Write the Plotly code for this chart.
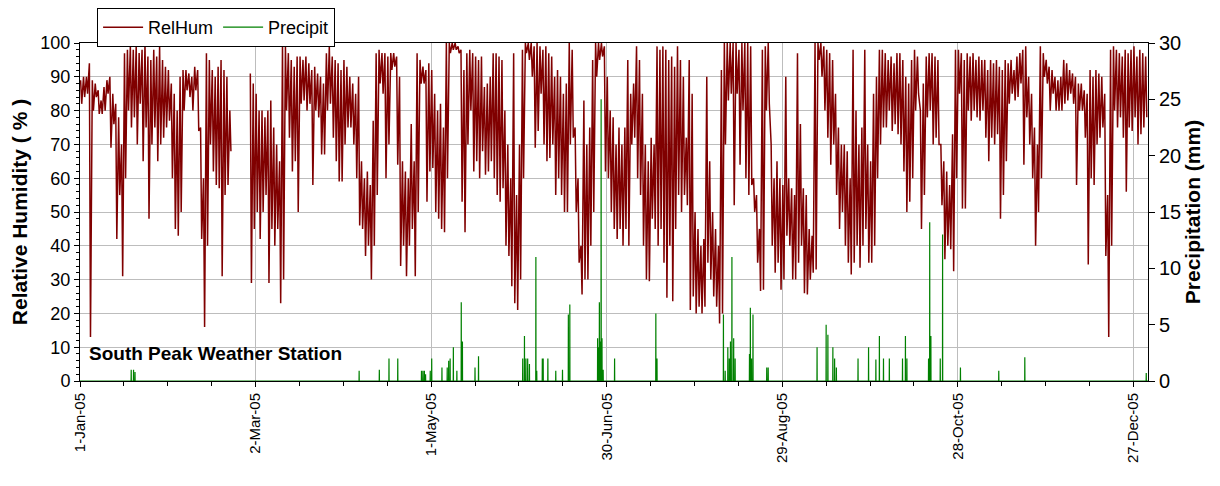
import datetime as dt
import plotly.graph_objects as go

# Daily relative humidity extremes (%) for 2005, day index 0 = 1-Jan-05 (None = missing data)
rh_high = [
    89, 90, 90, 94, 89, 88, 86, 83, 87, 89, 90, 85, 82, 78, 70, 97, 98, 99, 98, 99,
    97, 98, 100, 96, 95, 98, 96, 99, 95, 93, 92, 88, 85, 80, 90, 92, 92, 91, 90, 93,
    92, 75, 60, 97, 95, 92, 90, 93, 95, 92, 90, 80, None, None, None, None, None, None, 91, 88,
    85, 80, 80, 78, 80, 83, 75, 70, 65, 100, 99, 97, 95, 93, 96, 96, 95, 96, 94, 92,
    93, 91, 90, 88, 97, 99, 96, 95, 94, 92, 95, 93, 90, 88, 85, 90, 65, 60, 62, 58,
    77, 97, 98, 97, 97, 96, 97, 97, 96, 90, 65, 62, 60, 76, 65, 97, 95, 93, 92, 94,
    92, 85, 80, 82, 75, 100, 100, 100, 100, 99, 98, 92, 97, 98, 97, 96, 95, 96, 87, 88,
    90, 97, 97, 96, 95, 80, 70, 60, 97, 55, 70, 98, 100, 100, 100, 99, 100, 99, 98, 99,
    97, 96, 90, 92, 90, 85, 88, 100, 98, 75, 60, 40, 83, 70, 75, 95, 100, 100, 100, 99,
    90, 80, 78, 70, 75, 70, 75, 95, 85, 88, 99, 95, 85, 70, 65, 72, 70, 99, 98, 99,
    98, 95, 96, 93, 99, 95, 90, 72, 95, 85, 50, 45, 40, 42, 90, 65, 50, 45, 40, 92,
    100, 100, 100, 100, 100, 98, 100, 100, 100, 99, 60, 55, 45, 98, 99, 100, 70, 60, 65, 60,
    58, 90, 60, 57, 55, 97, 76, 57, 55, 45, 43, 100, 100, 100, 99, 98, 97, 95, 85, 75,
    70, 70, 68, 60, 98, 80, 70, 75, 98, 70, 65, 85, 90, 98, 98, 97, 95, 96, 94, 97,
    97, 95, 90, 88, 95, 98, 96, 80, 88, 96, 97, 97, 96, 95, 70, 65, 62, 58, 73, 98,
    98, 97, 95, 97, 96, 97, 95, 96, 95, 95, 92, 95, 94, 95, 93, 92, 95, 94, 95, 92,
    96, 97, 98, 99, 90, 85, 75, 70, 99, 97, 95, 93, 92, 90, 89, 90, 95, 94, 92, 91,
    90, 88, 88, 86, 85, 92, 90, 92, 91, 90, 85, 55, 98, 99, 98, 97, 96, 98, 97, 98,
    99, 96, 98, 97, 96,
]
rh_low = [
    82, 84, 85, 13, 80, 84, 79, 79, 80, 85, 69, 76, 42, 55, 31, 60, 80, 75, 78, 70,
    82, 65, 75, 48, 70, 75, 65, 70, 72, 75, 77, 60, 45, 43, 50, 80, 86, 84, 80, 86,
    74, 42, 16, 40, 70, 62, 58, 57, 31, 55, 58, 68, None, None, None, None, None, None, 29, 45,
    50, 42, 50, 55, 29, 45, 40, 45, 23, 30, 80, 72, 62, 65, 50, 82, 83, 80, 82, 58,
    80, 78, 67, 67, 80, 82, 72, 65, 59, 59, 70, 75, 75, 70, 60, 46, 45, 37, 40, 30,
    40, 55, 88, 85, 60, 70, 92, 93, 64, 34, 40, 31, 40, 45, 31, 50, 88, 88, 53, 62,
    63, 50, 48, 45, 44, 60, 97, 98, 98, 97, 53, 44, 70, 80, 62, 65, 60, 68, 61, 62,
    65, 60, 55, 53, 57, 40, 37, 28, 23, 21, 30, 60, 97, 95, 90, 69, 74, 85, 70, 65,
    66, 70, 55, 60, 55, 50, 50, 70, 72, 50, 35, 25.6, 30, 30, 40, 50, 90, 95, 96, 62,
    60, 50, 45, 42, 45, 40, 45, 40, 70, 72, 60, 55, 40, 30, 29.5, 48, 45, 40, 45, 35,
    24.6, 40, 23.6, 45, 55, 50, 55, 52, 21, 25, 20, 22, 20, 22, 35, 30, 25, 22, 17, 20,
    70, 83, 85, 52, 85, 64, 80, 60, 55, 58, 50, 35, 26.6, 27, 80, 82, 40, 32, 35, 27,
    30, 43, 40, 30, 30, 35, 40, 26, 25.6, 30, 32, 33, 95, 90, 80, 72, 64, 70, 55, 45,
    50, 40, 35, 31.5, 35, 40, 33.5, 40, 45, 35, 35, 40, 60, 70, 75, 75, 80, 74, 76, 73,
    70, 62, 50, 53, 60, 80, 85, 45, 55, 78, 80, 70, 72, 70, 52, 36, 40, 39, 32.5, 60,
    85, 51, 51, 80, 77, 80, 78, 77, 80, 72, 65, 72, 70, 73, 48, 55, 65, 82, 85, 83,
    84, 88, 64, 78, 70, 60, 40, 50, 60, 90, 88, 80, 85, 80, 80, 80, 82, 83, 85, 82,
    58, 80, 80, 72, 34.5, 60, 58, 70, 72, 75, 37, 13, 40, 80, 75, 78, 72, 56, 75, 74,
    78, 70, 73, 75, 78,
]

# Precipitation events: day of year offset (0 = 1-Jan-05 00:00) and amount (mm)
precip_day = [
    17.5, 18.3, 18.8, 95.4, 102.3, 105.6, 108.6, 116.7, 117.2, 117.7, 118.1, 119.7,
    120.2, 123.7, 125.5, 126.0, 126.5, 127.6, 128.8, 130.3, 130.7, 135.0, 136.2,
    151.3, 151.9, 152.4, 153.0, 153.6, 155.8, 156.1, 158.0, 158.3, 159.9, 162.6,
    164.9, 166.9, 167.4, 176.9, 177.2, 177.5, 177.8, 178.1, 178.4, 178.8, 182.7,
    196.8, 197.2, 219.9, 220.5, 221.4, 221.9, 222.3, 222.8, 223.4, 223.9, 228.8,
    229.1, 229.5, 230.0, 234.7, 235.2, 251.9, 255.0, 255.6, 257.3, 257.9, 258.5,
    265.9, 269.5, 272.0, 273.2, 274.6, 276.6, 281.1, 282.1, 282.6, 290.0, 290.4,
    290.8, 294.0, 294.8, 300.9, 314.0, 322.9, 364.4,
]
precip_mm = [
    1.0, 1.0, 0.8, 0.9, 1.0, 2.0, 2.0, 0.9, 0.9, 0.9, 0.6, 0.9,
    2.0, 1.2, 1.2, 1.8, 2.0, 3.0, 0.9, 7.0, 3.5, 1.2, 2.2,
    2.0, 4.0, 2.0, 2.0, 1.5, 11.0, 0.9, 2.0, 2.0, 2.0, 0.9,
    1.0, 5.9, 6.8, 3.8, 3.0, 7.0, 3.5, 25.0, 3.8, 1.0, 2.0,
    6.0, 2.0, 5.9, 0.9, 3.0, 2.0, 3.5, 11.0, 3.8, 2.0, 2.4,
    6.5, 2.0, 5.9, 1.2, 1.2, 3.0, 5.0, 4.1, 3.0, 2.0, 1.2,
    2.0, 3.0, 1.9, 4.0, 2.0, 2.0, 2.0, 4.0, 2.0, 2.0, 14.1,
    4.0, 2.0, 13.0, 1.2, 0.9, 2.1, 0.7,
]

start = dt.datetime(2005, 1, 1)

# Build the humidity time series: daily high in early morning, low in afternoon
rh_x, rh_y = [], []
for i, (hi, lo) in enumerate(zip(rh_high, rh_low)):
    day = start + dt.timedelta(days=i)
    rh_x += [day + dt.timedelta(hours=5), day + dt.timedelta(hours=14)]
    rh_y += [hi, lo]

# Precipitation as hourly spikes rising from zero
pr_x, pr_y = [start], [0]
for d, v in zip(precip_day, precip_mm):
    t = start + dt.timedelta(days=d)
    pr_x += [t - dt.timedelta(hours=1), t, t + dt.timedelta(hours=1)]
    pr_y += [0, v, 0]
pr_x.append(start + dt.timedelta(days=365))
pr_y.append(0)

FONT = "Liberation Sans, Arial, sans-serif"
GRID = "#bdbdbd"

fig = go.Figure()
fig.add_trace(go.Scatter(
    x=rh_x, y=rh_y, mode="lines", name="RelHum",
    line=dict(color="#800000", width=1.5), connectgaps=False, yaxis="y",
))
fig.add_trace(go.Scatter(
    x=pr_x, y=pr_y, mode="lines", name="Precipit",
    line=dict(color="#008000", width=1.2), yaxis="y2",
))

fig.add_annotation(
    text="<b>South Peak Weather Station</b>", xref="paper", yref="y",
    x=0.007, y=8, xanchor="left", yanchor="middle", showarrow=False,
    font=dict(family=FONT, size=19, color="#000000"),
)

day_ms = 86400000
fig.update_layout(
    width=1204, height=470,
    margin=dict(l=72, r=64, t=35, b=97, autoexpand=False),
    paper_bgcolor="white", plot_bgcolor="white",
    font=dict(family=FONT, size=15, color="#000000"),
    showlegend=True,
    legend=dict(
        orientation="h", x=0.016, y=1.0, xanchor="left", yanchor="top",
        yref="container",
        bgcolor="white", bordercolor="#000000", borderwidth=1,
        font=dict(family=FONT, size=18), itemwidth=40,
    ),
    xaxis=dict(
        type="date", range=[start, start + dt.timedelta(days=365)],
        tick0=start, dtick=60 * day_ms, tickformat="%-d-%b-%y", tickangle=-90,
        showgrid=True, gridcolor=GRID, gridwidth=1,
        showline=True, linecolor="#000000", linewidth=1, mirror=True,
        ticks="outside", ticklen=5, tickcolor="#000000",
        tickfont=dict(family=FONT, size=15),
        minor=dict(dtick=15 * day_ms, tick0=start, ticks="outside", ticklen=4,
                   tickcolor="#000000", showgrid=False),
        zeroline=False,
    ),
    yaxis=dict(
        range=[0, 100], dtick=10, showgrid=True, gridcolor=GRID, gridwidth=1,
        showline=True, linecolor="#000000", linewidth=1,
        ticks="outside", ticklen=5, tickcolor="#000000",
        minor=dict(dtick=2, ticks="outside", ticklen=3, tickcolor="#000000", showgrid=False),
        tickfont=dict(family=FONT, size=18),
        title=dict(text="<b>Relative Humidity ( % )</b>", font=dict(family=FONT, size=21), standoff=10),
        zeroline=False,
    ),
    yaxis2=dict(
        range=[0, 30], dtick=5, overlaying="y", side="right", showgrid=False,
        showline=True, linecolor="#000000", linewidth=1,
        ticks="outside", ticklen=6, tickcolor="#000000",
        tickfont=dict(family=FONT, size=20),
        title=dict(text="<b>Precipitation (mm)</b>", font=dict(family=FONT, size=21), standoff=4),
        zeroline=False,
    ),
)

fig.write_html("out.html")
